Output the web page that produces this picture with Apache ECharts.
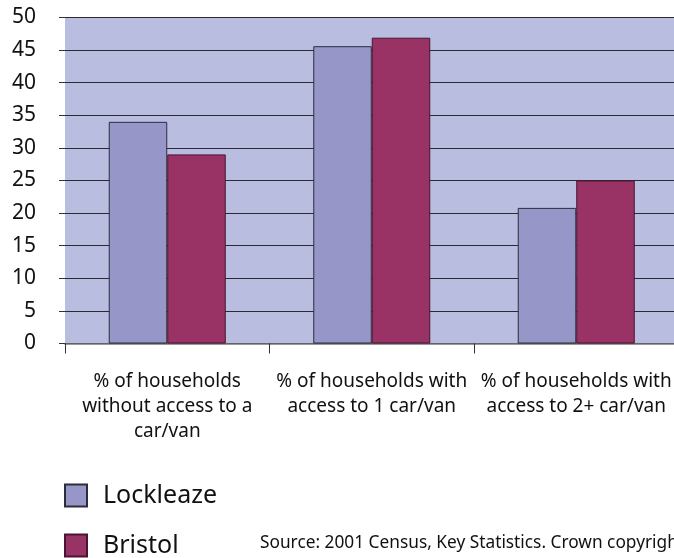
<!DOCTYPE html>
<html>
<head>
<meta charset="utf-8">
<style>
  html, body { margin: 0; padding: 0; background: #ffffff; }
  #chart { width: 674px; height: 558px; }
</style>
<script src="https://cdn.jsdelivr.net/npm/echarts@6/dist/echarts.min.js"></script>
</head>
<body>
<div id="chart"></div>
<script>
// Car/van access by household, Lockleaze vs Bristol (percent)
const categories = [
  '% of households\nwithout access to a\ncar/van',
  '% of households with\naccess to 1 car/van',
  '% of households with\naccess to 2+ car/van'
];
const lockleaze = [34, 45.6, 20.8];
const bristol = [29, 46.9, 25];
const yTicks = { min: 0, max: 50, interval: 5 };
const sourceNote = 'Source: 2001 Census, Key Statistics. Crown copyright';

const FONT = '"Noto Sans", sans-serif';
const chart = echarts.init(document.getElementById('chart'));

// one legend block per series, stacked vertically
function legendBlock(name, top) {
  return {
    left: 64,
    top: top,
    padding: 0,
    itemWidth: 22,
    itemHeight: 22,
    icon: 'rect',
    textStyle: {
      fontFamily: FONT,
      fontSize: 25,
      color: '#111',
      padding: [0, 0, 0, 11]
    },
    data: [name]
  };
}

chart.setOption({
  animation: false,
  backgroundColor: '#ffffff',
  grid: {
    left: 65,
    top: 17.5,
    width: 613.5,
    height: 326,
    outerBoundsMode: 'none',
    containLabel: false,
    show: true,
    backgroundColor: '#b9bde0',
    borderWidth: 0
  },
  legend: [legendBlock('Lockleaze', 483), legendBlock('Bristol', 533)],
  xAxis: {
    type: 'category',
    data: categories,
    axisLine: { show: true, lineStyle: { color: '#777', width: 1.5 } },
    axisTick: { show: true, length: 10, lineStyle: { color: '#333' } },
    axisLabel: {
      interval: 0,
      margin: 26,
      fontFamily: FONT,
      fontSize: 19,
      lineHeight: 25,
      color: '#111'
    }
  },
  yAxis: {
    type: 'value',
    min: yTicks.min,
    max: yTicks.max,
    interval: yTicks.interval,
    axisLine: { show: false },
    axisTick: { show: true, length: 6, lineStyle: { color: '#333' } },
    splitLine: { show: true, lineStyle: { color: '#2a2a35', width: 1 } },
    axisLabel: {
      margin: 29,
      fontFamily: FONT,
      fontSize: 21,
      color: '#111'
    }
  },
  series: [
    {
      name: 'Lockleaze',
      type: 'bar',
      data: lockleaze,
      barWidth: 58.5,
      barGap: '0%',
      itemStyle: { color: '#9696c8', borderColor: '#2c2c3a', borderWidth: 1 }
    },
    {
      name: 'Bristol',
      type: 'bar',
      data: bristol,
      barWidth: 58.5,
      barGap: '0%',
      itemStyle: { color: '#993366', borderColor: '#4a1530', borderWidth: 1 }
    }
  ],
  graphic: [
    {
      type: 'text',
      left: 260,
      top: 535,
      style: {
        text: sourceNote,
        fontFamily: FONT,
        fontSize: 17.3,
        fill: '#111'
      }
    }
  ]
});
</script>
</body>
</html>
